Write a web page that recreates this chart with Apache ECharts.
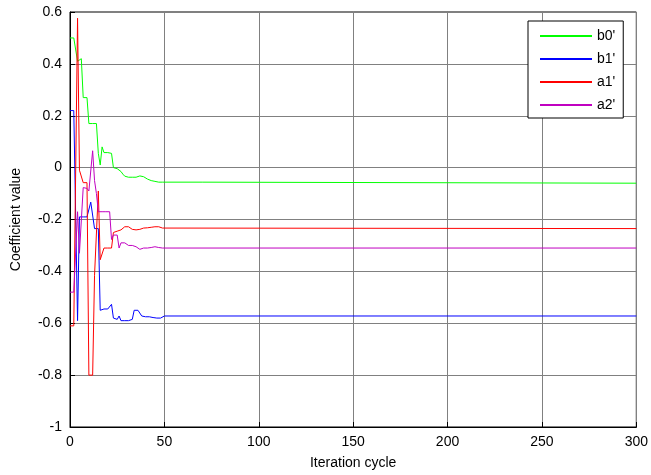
<!DOCTYPE html>
<html>
<head>
<meta charset="utf-8">
<script src="https://cdn.jsdelivr.net/npm/echarts@6/dist/echarts.min.js"></script>
<style>
  html, body { margin: 0; padding: 0; background: #fff; }
  #chart { width: 651px; height: 475px; }
</style>
</head>
<body>
<div id="chart"></div>
<script>
// coefficient values per iteration 0..50, then the flat tail up to 300
const b0 = [0.5, 0.5, 0.5, 0.5, 0.41, 0.41, 0.42, 0.27, 0.27, 0.27,
  0.17, 0.17, 0.17, 0.17, 0.17, 0.055, 0.01, 0.08, 0.058, 0.058,
  0.058, 0.058, 0.055, 0.0, -0.004, -0.004, -0.006, -0.015, -0.025, -0.033,
  -0.037, -0.037, -0.037, -0.037, -0.037, -0.037, -0.036, -0.032, -0.03, -0.035,
  -0.04, -0.044, -0.047, -0.05, -0.052, -0.053, -0.055, -0.056, -0.056, -0.056,
  -0.056]
const b0Tail = [[70, -0.056], [71, -0.06], [300, -0.06]]

const b1 = [0.22, 0.22, 0.22, 0.22, -0.59, -0.19, -0.19, -0.19, -0.19, -0.19,
  -0.19, -0.133, -0.133, -0.235, -0.235, -0.235, -0.55, -0.545, -0.545, -0.545,
  -0.545, -0.545, -0.527, -0.58, -0.585, -0.585, -0.572, -0.59, -0.59, -0.59,
  -0.59, -0.59, -0.59, -0.585, -0.55, -0.55, -0.55, -0.552, -0.572, -0.575,
  -0.575, -0.575, -0.575, -0.575, -0.578, -0.58, -0.58, -0.58, -0.58, -0.576,
  -0.572]
const b1Tail = [[300, -0.572]]

const a1 = [-0.61, -0.61, -0.61, -0.61, 0.576, -0.01, -0.01, -0.058, -0.058, -0.058,
  -0.8, -0.8, -0.8, -0.415, -0.415, -0.09, -0.355, -0.35, -0.31, -0.31,
  -0.31, -0.31, -0.31, -0.25, -0.25, -0.245, -0.245, -0.24, -0.235, -0.228,
  -0.226, -0.228, -0.234, -0.238, -0.24, -0.24, -0.24, -0.238, -0.235, -0.233,
  -0.232, -0.232, -0.231, -0.23, -0.229, -0.228, -0.228, -0.228, -0.23, -0.233,
  -0.235]
const a1Tail = [[300, -0.235]]

const a2 = [-0.48, -0.48, -0.48, -0.48, -0.17, -0.33, -0.33, -0.077, -0.077, -0.08,
  -0.09, -0.09, 0.065, -0.05, -0.1, -0.17, -0.17, -0.17, -0.17, -0.17,
  -0.17, -0.17, -0.277, -0.26, -0.26, -0.26, -0.31, -0.29, -0.29, -0.29,
  -0.295, -0.3, -0.3, -0.3, -0.3, -0.305, -0.31, -0.315, -0.312, -0.31,
  -0.31, -0.31, -0.31, -0.308, -0.305, -0.305, -0.305, -0.308, -0.31, -0.31,
  -0.31]
const a2Tail = [[300, -0.31]]

const seriesNames = ["b0'", "b1'", "a1'", "a2'"]
const seriesColors = ['#00ff00', '#0000ff', '#ff0000', '#c000c0']

const font = 'Liberation Sans, Arial, sans-serif'

function toPoints(vals, tail) {
  return vals.map((v, i) => [i, v]).concat(tail)
}

const chart = echarts.init(document.getElementById('chart'))

chart.setOption({
  animation: false,
  color: seriesColors,
  textStyle: { fontFamily: font },
  grid: {
    left: 70,
    right: 13,
    top: 12,
    bottom: 47,
    show: true,
    borderColor: '#000',
    borderWidth: 1
  },
  legend: {
    orient: 'vertical',
    left: 528,
    top: 21,
    data: seriesNames.map((n, i) => ({
      name: n,
      itemStyle: { color: seriesColors[i], borderWidth: 0 }
    })),
    icon: 'rect',
    itemWidth: 52,
    itemHeight: 2,
    itemGap: 7,
    padding: [7, 8, 5, 12],
    backgroundColor: '#fff',
    borderColor: '#000',
    borderWidth: 1,
    textStyle: { fontSize: 14, color: '#000', lineHeight: 16, fontFamily: font }
  },
  xAxis: {
    type: 'value',
    min: 0,
    max: 300,
    interval: 50,
    name: 'Iteration cycle',
    nameLocation: 'middle',
    nameGap: 29,
    nameTextStyle: { fontSize: 14, color: '#000' },
    axisLine: { onZero: false, lineStyle: { color: '#000', width: 1 } },
    axisTick: { inside: true, length: 5, lineStyle: { color: '#000' } },
    axisLabel: { fontSize: 14, color: '#000', margin: 8 },
    splitLine: { lineStyle: { color: '#808080', width: 1 } }
  },
  yAxis: {
    type: 'value',
    min: -1,
    max: 0.6,
    interval: 0.2,
    name: 'Coefficient value',
    nameLocation: 'middle',
    nameGap: 47,
    nameTextStyle: { fontSize: 14, color: '#000' },
    axisLine: { show: true, onZero: false, lineStyle: { color: '#000', width: 1 } },
    axisTick: { show: true, inside: true, length: 5, lineStyle: { color: '#000' } },
    axisLabel: {
      fontSize: 14,
      color: '#000',
      margin: 8,
      formatter: v => String(+v.toFixed(1))
    },
    splitLine: { lineStyle: { color: '#808080', width: 1 } }
  },
  series: [
    { name: seriesNames[0], data: toPoints(b0, b0Tail) },
    { name: seriesNames[1], data: toPoints(b1, b1Tail) },
    { name: seriesNames[2], data: toPoints(a1, a1Tail) },
    { name: seriesNames[3], data: toPoints(a2, a2Tail) }
  ].map((s, i) => ({
    ...s,
    type: 'line',
    showSymbol: false,
    itemStyle: { color: seriesColors[i] },
    lineStyle: { width: 1, color: seriesColors[i] }
  }))
})
</script>
</body>
</html>
